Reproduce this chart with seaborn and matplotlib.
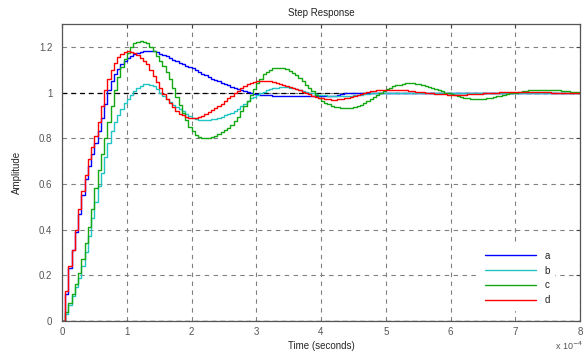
import numpy as np
import pandas as pd
import matplotlib
matplotlib.use("Agg")
import matplotlib.pyplot as plt
import seaborn as sns

# --- data: step responses sampled every 0.05 (time in units of 1e-4 s) ---
time = np.round(np.arange(0, 8.001, 0.05), 2)

a_vals = [0, 0.12, 0.23, 0.31, 0.39, 0.47, 0.55, 0.62, 0.68, 0.73,
          0.78, 0.83, 0.89, 0.95, 1.01, 1.05, 1.08, 1.105, 1.125, 1.14,
          1.152, 1.162, 1.17, 1.175, 1.178, 1.18, 1.181, 1.181, 1.18, 1.176,
          1.17, 1.165, 1.158, 1.151, 1.144, 1.137, 1.131, 1.125, 1.118, 1.112,
          1.106, 1.099, 1.091, 1.083, 1.075, 1.068, 1.061, 1.055, 1.049, 1.043,
          1.037, 1.031, 1.025, 1.02, 1.015, 1.01, 1.006, 1.002, 0.998, 0.995,
          0.993, 0.991, 0.99, 0.989, 0.988, 0.987, 0.987, 0.987, 0.987, 0.987,
          0.987, 0.987, 0.987, 0.987, 0.987, 0.987, 0.987, 0.987, 0.987, 0.987,
          0.987, 0.987, 0.987, 0.987, 0.987, 0.99, 0.994, 0.996, 0.997, 0.999,
          1.0, 1.0, 1.0, 1.0, 1.0, 1.0, 1.0, 1.0, 1.0, 1.0,
          1.0, 1.0, 1.0, 1.0, 1.0, 1.0, 1.0, 1.0, 1.0, 1.0,
          1.0, 1.0, 1.0, 1.0, 1.0, 1.0, 1.0, 1.0, 1.0, 1.0,
          1.0, 1.0, 1.0, 1.0, 1.0, 1.0, 1.0, 1.0, 1.0, 1.0,
          1.0, 1.0, 1.0, 1.0, 1.0, 1.0, 1.0, 1.0, 1.0, 1.0,
          1.0, 1.0, 1.0, 1.0, 1.0, 1.0, 1.0, 1.0, 1.0, 1.0,
          1.0, 1.0, 1.0, 1.0, 1.0, 1.0, 1.0, 1.0, 1.0, 1.0,
          1.0]

b_vals = [0, 0.03, 0.07, 0.11, 0.15, 0.19, 0.24, 0.30, 0.37, 0.45,
          0.52, 0.59, 0.65, 0.72, 0.78, 0.83, 0.87, 0.90, 0.93, 0.955,
          0.972, 0.99, 1.005, 1.02, 1.03, 1.037, 1.038, 1.035, 1.028, 1.015,
          1.0, 0.985, 0.97, 0.958, 0.947, 0.938, 0.928, 0.918, 0.908, 0.898,
          0.89, 0.884, 0.88, 0.878, 0.878, 0.879, 0.882, 0.886, 0.89, 0.895,
          0.9, 0.905, 0.91, 0.918, 0.928, 0.94, 0.952, 0.963, 0.974, 0.982,
          0.99, 0.997, 1.003, 1.009, 1.015, 1.019, 1.022, 1.024, 1.025, 1.024,
          1.022, 1.018, 1.014, 1.01, 1.006, 1.002, 0.999, 0.996, 0.993, 0.991,
          0.989, 0.988, 0.987, 0.987, 0.987, 0.987, 0.987, 0.987, 0.987, 0.987,
          0.988, 0.989, 0.99, 0.992, 0.995, 0.997, 0.999, 1.0, 1.0, 1.0,
          1.0, 1.0, 1.0, 1.0, 1.0, 1.0, 1.0, 1.0, 1.0, 1.0,
          1.0, 1.0, 1.0, 1.0, 1.0, 1.0, 1.0, 1.0, 1.0, 1.0,
          1.0, 1.0, 1.0, 1.0, 1.0, 1.0, 1.0, 1.0, 1.0, 1.0,
          1.0, 1.0, 1.0, 1.0, 1.0, 1.0, 1.0, 1.0, 1.0, 1.0,
          1.0, 1.0, 1.0, 1.0, 1.0, 1.0, 1.0, 1.0, 1.0, 1.0,
          1.0, 1.0, 1.0, 1.0, 1.0, 1.0, 1.0, 1.0, 1.0, 1.0,
          1.0]

c_vals = [0, 0.04, 0.08, 0.12, 0.16, 0.21, 0.27, 0.34, 0.41, 0.49,
          0.58, 0.66, 0.73, 0.80, 0.87, 0.94, 1.01, 1.07, 1.11, 1.145,
          1.175, 1.2, 1.215, 1.222, 1.225, 1.222, 1.215, 1.2, 1.18, 1.16,
          1.14, 1.115, 1.088, 1.058, 1.02, 0.982, 0.946, 0.91, 0.878, 0.85,
          0.83, 0.815, 0.807, 0.803, 0.802, 0.803, 0.806, 0.811, 0.817, 0.826,
          0.836, 0.846, 0.858, 0.875, 0.895, 0.918, 0.942, 0.965, 0.99, 1.015,
          1.04, 1.06, 1.08, 1.092, 1.1, 1.106, 1.108, 1.108, 1.106, 1.101,
          1.095, 1.087, 1.077, 1.064, 1.05, 1.035, 1.02, 1.005, 0.99, 0.977,
          0.965, 0.956, 0.949, 0.943, 0.938, 0.935, 0.933, 0.932, 0.933, 0.934,
          0.937, 0.941, 0.947, 0.954, 0.962, 0.971, 0.98, 0.989, 0.998, 1.007,
          1.015, 1.021, 1.027, 1.031, 1.035, 1.038, 1.04, 1.041, 1.04, 1.038,
          1.036, 1.032, 1.028, 1.024, 1.02, 1.015, 1.01, 1.005, 1.0, 0.996,
          0.992, 0.988, 0.984, 0.98, 0.977, 0.975, 0.973, 0.972, 0.972, 0.972,
          0.973, 0.975, 0.977, 0.98, 0.983, 0.987, 0.99, 0.993, 0.996, 0.998,
          1.0, 1.003, 1.006, 1.008, 1.01, 1.012, 1.013, 1.013, 1.013, 1.013,
          1.012, 1.011, 1.01, 1.009, 1.008, 1.006, 1.005, 1.004, 1.002, 1.001,
          1.0]

d_vals = [0, 0.13, 0.24, 0.31, 0.40, 0.49, 0.57, 0.64, 0.71, 0.76,
          0.81, 0.87, 0.94, 1.01, 1.06, 1.10, 1.13, 1.155, 1.17, 1.178,
          1.18, 1.178, 1.172, 1.163, 1.15, 1.138, 1.125, 1.1, 1.072, 1.045,
          1.02, 0.995, 0.972, 0.953, 0.935, 0.92, 0.908, 0.9, 0.895, 0.89,
          0.889, 0.889, 0.892, 0.897, 0.905, 0.913, 0.922, 0.932, 0.942, 0.952,
          0.963, 0.974, 0.985, 0.996, 1.007, 1.018, 1.028, 1.036, 1.043, 1.048,
          1.051, 1.052, 1.052, 1.051, 1.05, 1.047, 1.043, 1.039, 1.035, 1.03,
          1.025, 1.02, 1.014, 1.009, 1.003, 0.997, 0.992, 0.987, 0.982, 0.978,
          0.975, 0.972, 0.97, 0.969, 0.969, 0.97, 0.971, 0.974, 0.977, 0.981,
          0.986, 0.99, 0.994, 0.998, 1.002, 1.005, 1.008, 1.01, 1.011, 1.012,
          1.012, 1.012, 1.012, 1.012, 1.011, 1.01, 1.009, 1.007, 1.006, 1.004,
          1.003, 1.001, 1.0, 0.998, 0.997, 0.995, 0.994, 0.993, 0.992, 0.991,
          0.991, 0.991, 0.991, 0.991, 0.991, 0.992, 0.992, 0.993, 0.994, 0.995,
          0.996, 0.997, 0.998, 0.999, 1.0, 1.001, 1.002, 1.002, 1.003, 1.003,
          1.004, 1.004, 1.004, 1.004, 1.004, 1.003, 1.003, 1.002, 1.002, 1.001,
          1.001, 1.0, 1.0, 0.999, 0.999, 0.999, 0.999, 0.999, 0.999, 0.999,
          0.999]

labels = ["a", "b", "c", "d"]
colors = {"a": "#0000ff", "b": "#22c4c4", "c": "#14a814", "d": "#ff0000"}

df = pd.concat([
    pd.DataFrame({"time": time, "amp": vals, "sys": lab})
    for lab, vals in zip(labels, [a_vals, b_vals, c_vals, d_vals])
], ignore_index=True)

# --- styling ---
sns.set_style("white")
plt.rcParams["font.family"] = ["Liberation Sans", "DejaVu Sans"]
plt.rcParams["text.color"] = "#222222"
plt.rcParams["xtick.color"] = "#555555"
plt.rcParams["ytick.color"] = "#555555"

fig = plt.figure(figsize=(5.87, 3.54), dpi=100)
ax = fig.add_axes([62 / 587, 33 / 354, 518 / 587, 297 / 354])

ax.grid(True, color="#808080", linestyle=(0, (4, 4)), linewidth=0.8)
ax.axhline(1.0, color="black", linestyle=(0, (4, 3)), linewidth=0.9, zorder=1)
ax.axhline(0.0, color="black", linestyle=(0, (4, 3)), linewidth=0.9, zorder=1)

sns.lineplot(data=df, x="time", y="amp", hue="sys", palette=colors,
             drawstyle="steps-post", linewidth=1.0, ax=ax, estimator=None,
             sort=False)

ax.set_xlim(0, 8)
ax.set_ylim(0, 1.3)
ax.set_xticks(range(0, 9))
ax.set_xticklabels([str(i) for i in range(0, 9)])
ax.set_yticks([0, 0.2, 0.4, 0.6, 0.8, 1.0, 1.2])
ax.set_yticklabels(["0", "0.2", "0.4", "0.6", "0.8", "1", "1.2"])
ax.tick_params(direction="in", length=3, labelsize=7, top=True, right=True,
               color="#444444")
ax.tick_params(axis="x", pad=4)
ax.tick_params(axis="y", pad=7)
for s in ax.spines.values():
    s.set_color("#555555")
    s.set_linewidth(0.9)

ax.set_title("Step Response", fontsize=7, pad=6)
ax.set_xlabel("Time (seconds)", fontsize=7, labelpad=3)
ax.set_ylabel("Amplitude", fontsize=7, labelpad=12)
fig.text(555 / 587, 1 - 350 / 354, r"x 10$^{-4}$", fontsize=6.5,
         color="#555555", va="baseline")

leg = ax.legend(loc="lower right", bbox_to_anchor=(0.96, 0.02), frameon=True,
                fontsize=7, handlelength=5.3, labelspacing=0.5,
                borderpad=0.5, handletextpad=0.8)
leg.get_frame().set_facecolor("white")
leg.get_frame().set_edgecolor("white")
leg.get_frame().set_alpha(1)
leg.get_frame().set_boxstyle("square", pad=0)
leg.set_title(None)

fig.savefig("out.png", dpi=100)
